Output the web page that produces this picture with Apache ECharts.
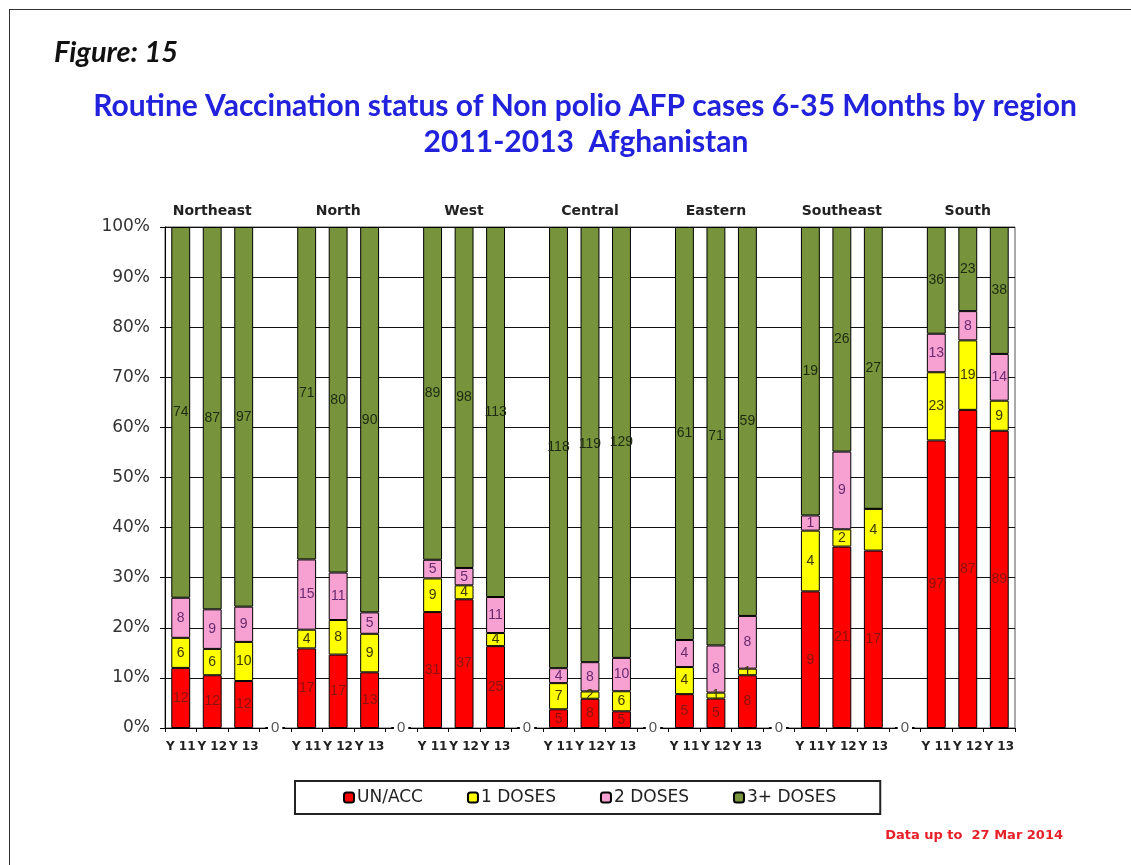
<!DOCTYPE html>
<html lang="en">
<head>
    <meta charset="UTF-8">
    <title>Routine Vaccination status</title>
    <script type="text/javascript" src="https://cdn.jsdelivr.net/npm/echarts@6/dist/echarts.min.js"></script>
    <style>
        body { margin: 0; background: #fff; }
        #frame { position: absolute; left: 9px; top: 9px; width: 1130px; height: 870px; border-left: 1px solid #333; border-top: 1px solid #333; }
        #main { position: absolute; left: 0; top: 0; width: 1131px; height: 865px; }
    </style>
</head>
<body>
<div id="frame"></div>
<div id="main"></div>

<script type="text/javascript">
    // regions and years on the x axis
    var regions = ['Northeast', 'North', 'West', 'Central', 'Eastern', 'Southeast', 'South'];
    var years = ['Y 11', 'Y 12', 'Y 13'];

    // case counts per region, one entry per year
    var unvacc = [[12, 12, 12], [17, 17, 13], [31, 37, 25], [5, 8, 5], [5, 5, 8], [9, 21, 17], [97, 87, 89]];
    var dose1  = [[6, 6, 10], [4, 8, 9], [9, 4, 4], [7, 2, 6], [4, 1, 1], [4, 2, 4], [23, 19, 9]];
    var dose2  = [[8, 9, 9], [15, 11, 5], [5, 5, 11], [4, 8, 10], [4, 8, 8], [1, 9, 0], [13, 8, 14]];
    var dose3  = [[74, 87, 97], [71, 80, 90], [89, 98, 113], [118, 119, 129], [61, 71, 59], [19, 26, 27], [36, 23, 38]];

    var seriesNames = ['UN/ACC', '1 DOSES', '2 DOSES', '3+ DOSES'];
    var seriesCounts = [unvacc, dose1, dose2, dose3];
    var colors = ['#ff0000', '#ffff00', '#f7a1d3', '#77933c'];
    var labelColors = ['#8a1010', '#3a3a00', '#6a2a70', '#1d2a10'];

    // flat category list, an empty slot between regions
    var categories = [];
    var topLabels = [];
    var slots = []; // [regionIndex, yearIndex] or null for gap
    regions.forEach(function (r, ri) {
        years.forEach(function (y, yi) {
            categories.push(y);
            topLabels.push(yi === 1 ? r : '');
            slots.push([ri, yi]);
        });
        if (ri < regions.length - 1) {
            categories.push('');
            topLabels.push('');
            slots.push(null);
        }
    });

    function total(ri, yi) {
        return unvacc[ri][yi] + dose1[ri][yi] + dose2[ri][yi] + dose3[ri][yi];
    }

    var series = seriesCounts.map(function (arr, si) {
        var data = slots.map(function (s) {
            if (s === null) {
                return {
                    value: 0, count: 0,
                    label: si === 0 ? {show: true, formatter: '0', color: '#555', fontSize: 15, backgroundColor: '#fff', padding: [0, 3]} : {show: false}
                };
            }
            var c = arr[s[0]][s[1]];
            return {
                value: c / total(s[0], s[1]) * 100,
                count: c,
                label: {show: c > 0}
            };
        });
        return {
            name: seriesNames[si],
            type: 'bar',
            stack: 'all',
            barWidth: '60%',
            itemStyle: {color: colors[si], borderColor: '#000', borderWidth: 1},
            label: {
                show: true,
                position: 'inside',
                fontFamily: 'Arial, "Liberation Sans"',
                fontSize: 14,
                color: labelColors[si],
                formatter: function (p) { return p.data.count; }
            },
            data: data
        };
    });

    var option = {
        animation: false,
        backgroundColor: 'transparent',
        graphic: [
            {
                type: 'text', left: 54, top: 38,
                style: {text: 'Figure: 15', font: 'italic bold 29px Lato', fill: '#111'}
            },
            {
                type: 'text', x: 585, y: 106,
                style: {text: 'Routine Vaccination status of Non polio AFP cases 6-35 Months by region',
                        font: 'bold 30px Lato', fill: '#2222dd', align: 'center', verticalAlign: 'middle'}
            },
            {
                type: 'text', x: 586, y: 142,
                style: {text: '2011-2013  Afghanistan',
                        font: 'bold 30px Lato', fill: '#2222dd', align: 'center', verticalAlign: 'middle'}
            },
            {
                type: 'text', x: 1063, y: 836,
                style: {text: 'Data up to  27 Mar 2014',
                        font: 'bold 13px "DejaVu Sans"', fill: '#e8202a', align: 'right', verticalAlign: 'middle'}
            }
        ],
        legend: {
            data: seriesNames,
            left: 295, top: 781,
            padding: [8, 44, 8, 48],
            itemGap: 44,
            itemWidth: 10, itemHeight: 10,
            borderColor: '#222', borderWidth: 2,
            textStyle: {fontFamily: '"DejaVu Sans"', fontSize: 17, color: '#222', padding: [0, 0, 0, -2]}
        },
        grid: {
            left: 165, right: 116, top: 227, bottom: 137,
            show: true, borderColor: '#555', borderWidth: 1
        },
        xAxis: [
            {
                type: 'category',
                data: categories,
                axisLine: {lineStyle: {color: '#000', width: 1}},
                axisTick: {show: true, length: 4, lineStyle: {color: '#000'}},
                axisLabel: {interval: 0, margin: 13, fontFamily: '"DejaVu Sans"', fontSize: 12, fontWeight: 'bold', color: '#222'}
            },
            {
                type: 'category',
                position: 'top',
                data: topLabels,
                axisLine: {show: false},
                axisTick: {show: false},
                axisLabel: {interval: 0, margin: 9, fontFamily: '"DejaVu Sans"', fontSize: 14, fontWeight: 'bold', color: '#222'}
            }
        ],
        yAxis: {
            type: 'value',
            min: 0, max: 100, interval: 10,
            axisLine: {show: true, lineStyle: {color: '#000'}},
            axisTick: {show: true, length: 5, lineStyle: {color: '#000'}},
            splitLine: {lineStyle: {color: '#111', width: 1}},
            axisLabel: {formatter: '{value}%', margin: 15, fontFamily: '"DejaVu Sans"', fontSize: 17, color: '#333'}
        },
        series: series
    };

    var myChart = echarts.init(document.getElementById('main'));
    myChart.setOption(option);
</script>
</body>
</html>
